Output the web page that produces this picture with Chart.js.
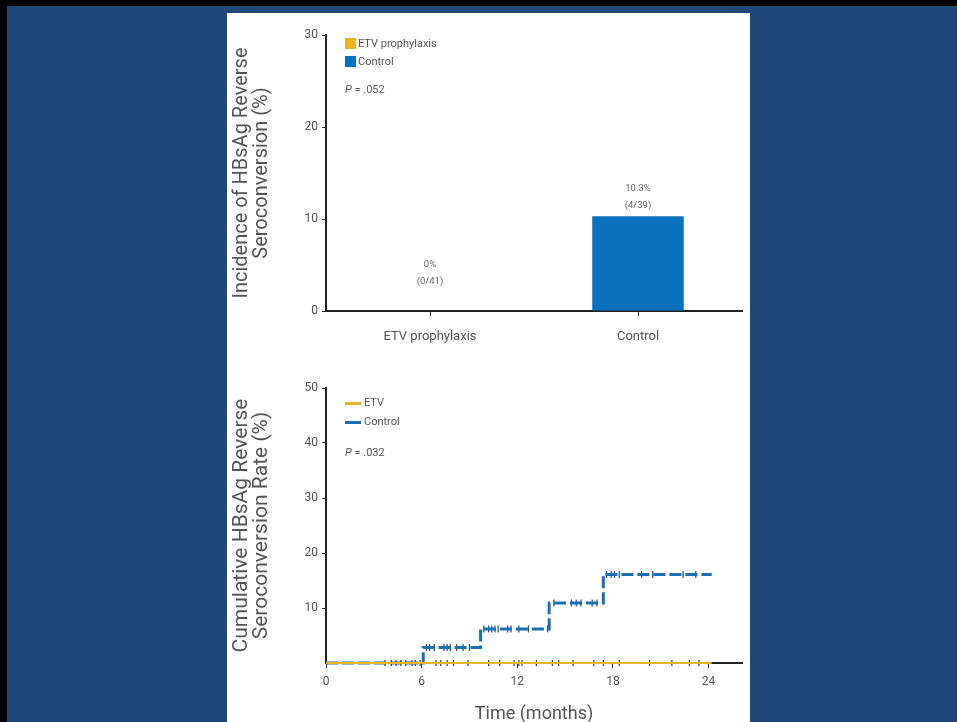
<!DOCTYPE html>
<html>
<head>
<meta charset="UTF-8">
<title>HBsAg reverse seroconversion</title>
<script src="https://cdn.jsdelivr.net/npm/chart.js@4.4.0/dist/chart.umd.min.js"></script>
<style>
    html, body { margin: 0; padding: 0; background: #000; overflow: hidden; width: 957px; height: 722px; }
    #fondo { position: absolute; left: 7px; top: 6px; width: 950px; height: 716px; background: #1f4778; }
    #panel { position: absolute; left: 227px; top: 13px; width: 523px; height: 709px; background: #fff; }
    canvas { position: absolute; }
    .txt { position: absolute; font-family: Roboto, sans-serif; font-size: 11px; color: #555; white-space: nowrap; line-height: 13px; }
    .cuadro { position: absolute; width: 11px; height: 11px; }
    .raya { position: absolute; width: 16px; height: 3px; }
</style>
</head>
<body>
<div id="fondo"></div>
<div id="panel"></div>
<canvas id="grafica" width="522" height="345" style="left:228px; top:13px;"></canvas>
<canvas id="graficaCurva" width="522" height="372" style="left:228px; top:358px;"></canvas>

<!-- leyenda de barras -->
<div class="cuadro" style="left:345px; top:38px; background:#e8b41f;"></div>
<div class="txt" style="left:358px; top:37px;">ETV prophylaxis</div>
<div class="cuadro" style="left:345px; top:56px; background:#0a71bf;"></div>
<div class="txt" style="left:358px; top:55px;">Control</div>
<div class="txt" style="left:345px; top:83px;"><i>P</i> = .052</div>

<!-- leyenda de curvas -->
<div class="raya" style="left:345px; top:402px; background:#e8b41f;"></div>
<div class="txt" style="left:364px; top:396px;">ETV</div>
<div class="raya" style="left:345px; top:421px; background:#1a6fb5;"></div>
<div class="txt" style="left:364px; top:415px;">Control</div>
<div class="txt" style="left:345px; top:446px;"><i>P</i> = .032</div>

<script>
    // datos del grafico de barras
    const grupos = ['ETV prophylaxis', 'Control'];
    const incidencia = [0, 10.3];
    const etiquetasPct = ['0%', '10.3%'];
    const etiquetasN = ['(0/41)', '(4/39)'];
    const ticksIncidencia = [0, 10, 20, 30];

    // datos de la curva acumulada (Kaplan-Meier)
    const mesesControl = [0, 6.1, 9.7, 14.0, 17.4, 24.2];
    const tasaControl = [0, 2.8, 6.2, 10.9, 16.1, 16.1];
    const mesesETV = [0, 24.2];
    const tasaETV = [0, 0];
    const censuraControl = [6.3, 6.5, 6.8, 7.4, 7.6, 7.8, 8.2, 8.6, 9.0, 9.9, 10.2, 10.4, 10.6, 10.8,
        11.4, 11.6, 12.1, 12.7, 13.9, 14.3, 15.4, 15.7, 16.0, 16.7, 17.0, 17.6, 17.9, 18.1, 18.4,
        19.8, 20.5, 22.4, 23.2];
    const censuraETV = [3.7, 4.1, 4.4, 4.7, 5.0, 5.4, 5.6, 5.9, 6.9, 7.2, 7.6, 8.0, 8.9, 10.2, 10.9,
        11.8, 12.1, 12.3, 13.2, 14.2, 14.6, 15.5, 16.8, 17.4, 18.4, 20.3, 21.7, 22.8, 23.4];
    const ticksMeses = [0, 6, 12, 18, 24];
    const ticksTasa = [10, 20, 30, 40, 50];

    const amarillo = '#e8b41f';
    const azulBarra = '#0a71bf';
    const azulLinea = '#1a6fb5';
    const gris = '#555';
    const fuente = 'Roboto, sans-serif';

    Chart.defaults.font.family = fuente;
    Chart.defaults.color = gris;

    function nivel(t, tiempos, tasas) {
        let v = tasas[0];
        for (let i = 0; i < tiempos.length; i++) {
            if (tiempos[i] <= t) v = tasas[i];
        }
        return v;
    }

    const etiquetasBarras = {
        id: 'etiquetasBarras',
        afterDatasetsDraw(chart) {
            const ctx = chart.ctx;
            const meta = chart.getDatasetMeta(0);
            ctx.save();
            ctx.font = '9.5px ' + fuente;
            ctx.fillStyle = '#666';
            ctx.textAlign = 'center';
            ctx.textBaseline = 'middle';
            meta.data.forEach((bar, i) => {
                const subir = incidencia[i] === 0 ? 46 : 28;
                ctx.fillText(etiquetasPct[i], bar.x, bar.y - subir);
                ctx.fillText(etiquetasN[i], bar.x, bar.y - subir + 17);
            });
            ctx.restore();
        }
    };

    new Chart(document.getElementById('grafica').getContext('2d'), {
        type: 'bar',
        data: {
            labels: grupos,
            datasets: [{
                data: incidencia,
                backgroundColor: [amarillo, azulBarra],
                categoryPercentage: 1,
                barPercentage: 0.44
            }]
        },
        options: {
            responsive: false,
            animation: false,
            devicePixelRatio: 1,
            layout: { padding: { left: 0, top: 22, right: 8, bottom: 0 } },
            scales: {
                x: {
                    grid: { display: true, drawOnChartArea: false, offset: false, tickLength: 5, color: '#333' },
                    border: { color: '#222', width: 2 },
                    ticks: { font: { size: 13 }, padding: 13, color: gris },
                    afterFit: s => { s.height = 47; }
                },
                y: {
                    min: 0,
                    max: 30,
                    afterBuildTicks: s => { s.ticks = ticksIncidencia.map(v => ({ value: v })); },
                    grid: { display: true, drawOnChartArea: false, tickLength: 4, color: '#333' },
                    border: { color: '#222', width: 2 },
                    ticks: { font: { size: 12 }, padding: 4, color: gris },
                    title: {
                        display: true,
                        text: ['Incidence of HBsAg Reverse', 'Seroconversion (%)'],
                        font: { size: 20, lineHeight: 1.0 },
                        color: gris,
                        padding: { top: 4, bottom: 0 }
                    },
                    afterFit: s => { s.width = 98; }
                }
            },
            plugins: {
                legend: { display: false },
                tooltip: { enabled: false }
            }
        },
        plugins: [etiquetasBarras]
    });

    new Chart(document.getElementById('graficaCurva').getContext('2d'), {
        type: 'line',
        data: {
            datasets: [
                {
                    label: 'ETV',
                    data: mesesETV.map((t, i) => ({ x: t, y: tasaETV[i] })),
                    borderColor: amarillo,
                    borderWidth: 2,
                    pointRadius: 0,
                    stepped: true,
                    clip: false
                },
                {
                    label: 'Control',
                    data: mesesControl.map((t, i) => ({ x: t, y: tasaControl[i] })),
                    borderColor: azulLinea,
                    borderWidth: 3,
                    borderDash: [12, 4],
                    pointRadius: 0,
                    stepped: true,
                    clip: false
                },
                {
                    label: 'censura ETV',
                    data: censuraETV.map(t => ({ x: t, y: nivel(t, mesesETV, tasaETV) })),
                    showLine: false,
                    pointStyle: 'line',
                    rotation: 90,
                    pointRadius: 3,
                    borderColor: '#3a3a2a',
                    borderWidth: 1.2,
                    clip: false
                },
                {
                    label: 'censura Control',
                    data: censuraControl.map(t => ({ x: t, y: nivel(t, mesesControl, tasaControl) })),
                    showLine: false,
                    pointStyle: 'line',
                    rotation: 90,
                    pointRadius: 3.5,
                    borderColor: '#1b4f85',
                    borderWidth: 1.2,
                    clip: false
                }
            ]
        },
        options: {
            responsive: false,
            animation: false,
            devicePixelRatio: 1,
            layout: { padding: { left: 0, top: 30, right: 8, bottom: 0 } },
            scales: {
                x: {
                    type: 'linear',
                    min: 0,
                    max: 26.1,
                    afterBuildTicks: s => { s.ticks = ticksMeses.map(v => ({ value: v })); },
                    grid: { display: true, drawOnChartArea: false, tickLength: 5, color: '#333' },
                    border: { color: '#222', width: 2 },
                    ticks: { font: { size: 12 }, padding: 7, color: gris },
                    title: {
                        display: true,
                        text: 'Time (months)',
                        font: { size: 18 },
                        color: gris,
                        padding: { top: 0, bottom: 5 }
                    },
                    afterFit: s => { s.height = 67; }
                },
                y: {
                    min: 0,
                    max: 50,
                    afterBuildTicks: s => { s.ticks = ticksTasa.map(v => ({ value: v })); },
                    grid: { display: true, drawOnChartArea: false, tickLength: 4, color: '#333' },
                    border: { color: '#222', width: 2 },
                    ticks: { font: { size: 12 }, padding: 4, color: gris },
                    title: {
                        display: true,
                        text: ['Cumulative HBsAg Reverse', 'Seroconversion Rate (%)'],
                        font: { size: 21, lineHeight: 0.95 },
                        color: gris,
                        padding: { top: 4, bottom: 0 }
                    },
                    afterFit: s => { s.width = 98; }
                }
            },
            plugins: {
                legend: { display: false },
                tooltip: { enabled: false }
            }
        }
    });
</script>
</body>
</html>
